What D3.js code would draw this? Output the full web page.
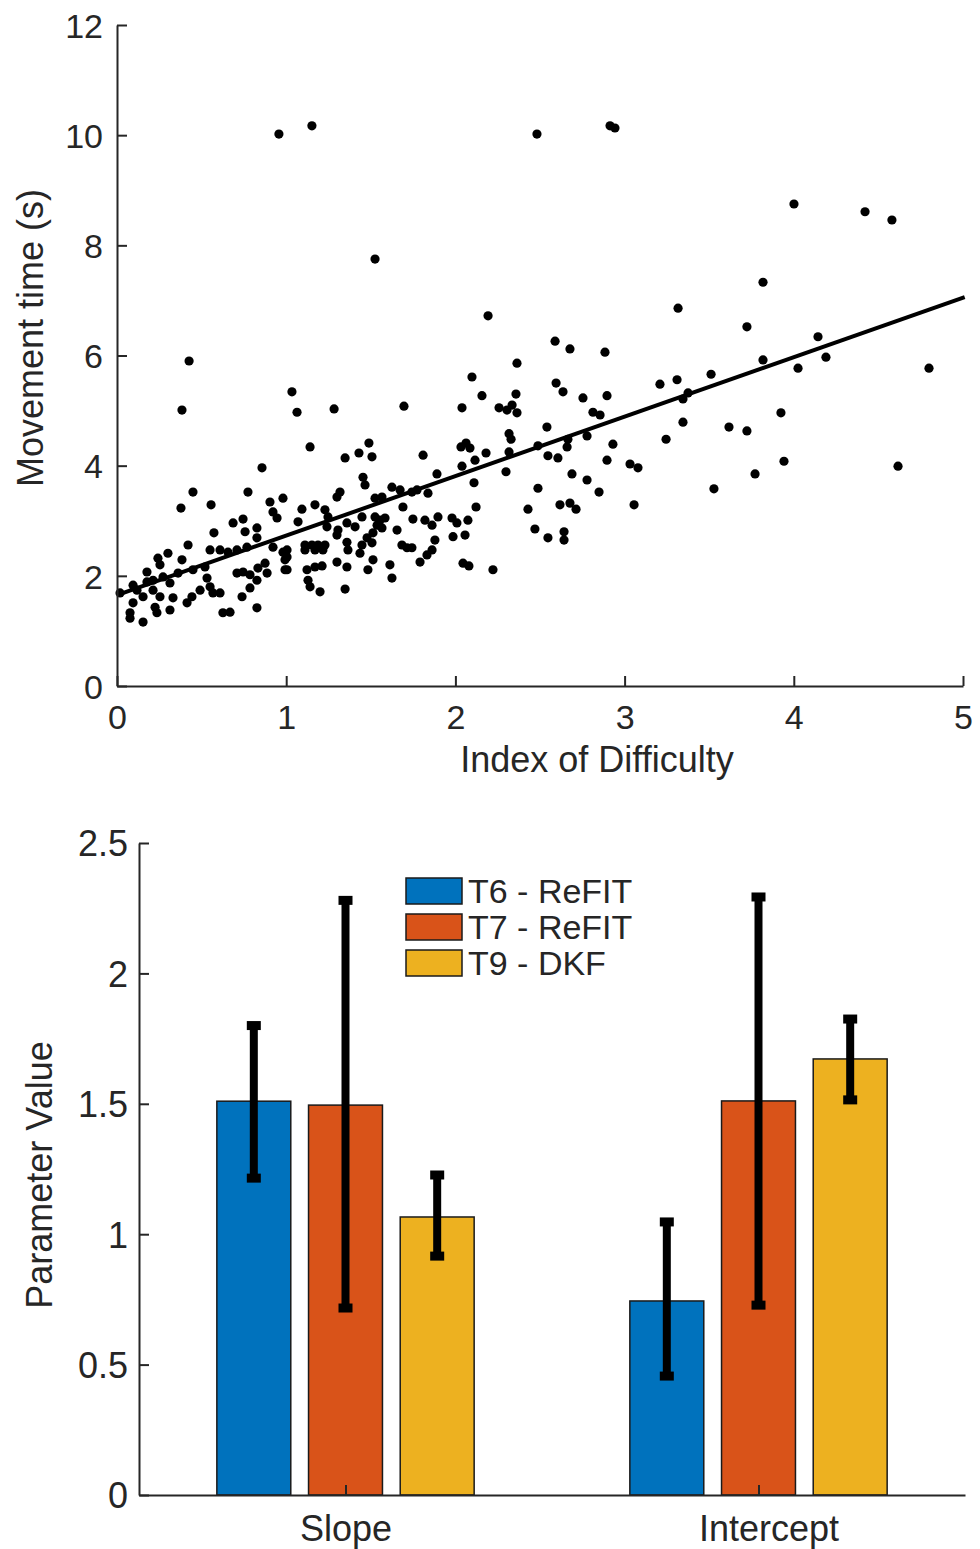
<!DOCTYPE html>
<html>
<head>
<meta charset="utf-8">
<script src="https://cdn.jsdelivr.net/npm/d3@7"></script>
<style>
  html, body { margin: 0; padding: 0; background: #fff; }
  svg { display: block; }
  text { font-family: "Liberation Sans", Arial, Helvetica, sans-serif; fill: #262626; }
</style>
</head>
<body>
<svg id="chart" width="980" height="1549"></svg>
<script>
// ---------------- DATA ----------------
// Scatter: [Index of Difficulty, Movement time (s)]
const scatterPoints = [
  [0.957,10.02],[1.152,10.17],[2.482,10.02],[2.914,10.17],[2.943,10.13],[1.525,7.75],[4.001,8.75],[4.421,8.61],
  [4.580,8.46],[3.818,7.33],[3.316,6.86],[2.193,6.72],[3.723,6.52],[4.143,6.34],[4.190,5.97],[3.818,5.92],
  [4.025,5.77],[4.799,5.77],[3.511,5.66],[3.310,5.56],[3.209,5.48],[3.375,5.32],[3.345,5.21],[3.924,4.96],
  [3.345,4.79],[3.245,4.48],[3.617,4.70],[3.723,4.63],[3.942,4.08],[3.771,3.85],[3.528,3.58],[4.616,3.99],
  [0.426,5.90],[0.384,5.01],[1.034,5.34],[1.064,4.97],[1.283,5.03],[1.696,5.08],[2.039,5.05],[1.141,4.34],
  [1.489,4.41],[1.430,4.23],[1.507,4.16],[1.348,4.14],[1.809,4.19],[2.033,4.34],[2.589,6.26],[2.677,6.12],
  [2.884,6.06],[2.364,5.86],[2.098,5.61],[2.595,5.50],[2.636,5.34],[2.157,5.27],[2.358,5.30],[2.754,5.23],
  [2.896,5.27],[2.258,5.05],[2.305,5.01],[2.335,5.10],[2.364,4.96],[2.813,4.97],[2.855,4.92],[2.541,4.70],
  [2.317,4.58],[2.329,4.48],[2.063,4.41],[2.086,4.32],[2.181,4.23],[2.317,4.25],[2.488,4.36],[2.665,4.48],
  [2.660,4.34],[2.778,4.54],[2.931,4.39],[2.547,4.18],[2.606,4.14],[2.896,4.10],[3.032,4.03],[3.079,3.96],
  [2.299,3.89],[2.689,3.85],[2.778,3.74],[2.849,3.52],[2.110,3.69],[2.488,3.59],[2.618,3.29],[2.677,3.32],
  [2.713,3.21],[3.056,3.29],[2.429,3.21],[2.122,3.25],[2.074,3.01],[2.057,2.74],[2.470,2.85],[2.642,2.80],
  [2.642,2.65],[2.547,2.69],[2.045,2.23],[2.080,2.18],[2.222,2.11],[2.116,4.10],[2.039,3.99],[1.891,3.85],
  [1.454,3.79],[1.466,3.65],[1.625,3.61],[1.318,3.52],[1.300,3.43],[1.525,3.41],[1.566,3.43],[1.673,3.56],
  [1.743,3.52],[1.773,3.56],[1.838,3.50],[1.093,3.21],[1.170,3.29],[1.229,3.20],[1.247,3.07],[1.690,3.25],
  [1.070,2.98],[1.241,2.89],[1.306,2.83],[1.359,2.96],[1.407,2.89],[1.448,3.07],[1.525,3.07],[1.554,3.01],
  [1.584,3.05],[1.537,2.92],[1.566,2.87],[1.513,2.78],[1.655,2.83],[1.749,3.03],[1.820,3.01],[1.862,2.92],
  [1.897,3.07],[1.980,3.05],[2.009,2.96],[1.986,2.71],[1.879,2.65],[1.111,2.56],[1.152,2.56],[1.188,2.56],
  [1.229,2.56],[1.111,2.47],[1.170,2.47],[1.217,2.47],[1.005,2.47],[1.005,2.34],[1.005,2.11],[1.300,2.74],
  [1.359,2.61],[1.365,2.47],[1.478,2.69],[1.448,2.56],[1.436,2.41],[1.507,2.60],[1.684,2.56],[1.714,2.51],
  [1.743,2.51],[1.300,2.25],[1.359,2.16],[1.170,2.16],[1.212,2.18],[1.123,2.11],[1.129,1.92],[1.141,1.80],
  [1.200,1.71],[1.348,1.76],[1.513,2.29],[1.483,2.11],[1.613,2.20],[1.625,1.96],[1.791,2.25],[1.832,2.38],
  [1.862,2.47],[0.857,3.96],[0.449,3.52],[0.774,3.52],[0.378,3.23],[0.556,3.29],[0.904,3.34],[0.981,3.41],
  [0.922,3.16],[0.946,3.05],[0.686,2.96],[0.745,3.03],[0.573,2.78],[0.757,2.80],[0.827,2.87],[0.420,2.56],
  [0.550,2.47],[0.609,2.47],[0.656,2.43],[0.709,2.47],[0.768,2.52],[0.827,2.69],[0.922,2.52],[0.981,2.43],
  [0.993,2.29],[0.993,2.11],[0.242,2.32],[0.301,2.41],[0.384,2.29],[0.177,2.07],[0.254,2.20],[0.213,1.92],
  [0.272,1.98],[0.313,1.87],[0.361,2.05],[0.449,2.11],[0.520,2.16],[0.532,1.96],[0.550,1.80],[0.567,1.69],
  [0.709,2.05],[0.745,2.07],[0.786,2.02],[0.833,2.14],[0.875,2.23],[0.887,2.05],[0.827,1.92],[0.786,1.78],
  [0.739,1.62],[0.609,1.69],[0.491,1.74],[0.443,1.62],[0.414,1.51],[0.331,1.60],[0.254,1.62],[0.225,1.43],
  [0.154,1.62],[0.095,1.51],[0.118,1.74],[0.077,1.33],[0.077,1.23],[0.154,1.16],[0.236,1.33],[0.313,1.38],
  [0.626,1.33],[0.668,1.34],[0.827,1.42],[0.018,1.69],[0.095,1.83],[0.177,1.89],[0.213,1.74]
];
const fitIntercept = 1.65;
const fitSlope = 1.08;
const scatterXTicks = [0, 1, 2, 3, 4, 5];
const scatterYTicks = [0, 2, 4, 6, 8, 10, 12];

// Bars
const categories = ["Slope", "Intercept"];
const seriesNames = ["T6 - ReFIT", "T7 - ReFIT", "T9 - DKF"];
const seriesColors = ["#0072BD", "#D95319", "#EDB120"];
const barValues = [[1.510, 1.495, 1.066], [0.744, 1.511, 1.672]];
const errLow    = [[1.215, 0.717, 0.916], [0.456, 0.728, 1.515]];
const errHigh   = [[1.800, 2.280, 1.227], [1.047, 2.293, 1.825]];
const barYTicks = [0, 0.5, 1, 1.5, 2, 2.5];
const barYTickLabels = ["0", "0.5", "1", "1.5", "2", "2.5"];

// ---------------- DRAW ----------------
const svg = d3.select("#chart");
const axisColor = "#262626";

// ===== Scatter =====
const sx = d3.scaleLinear().domain([0, 5]).range([117, 963]);
const sy = d3.scaleLinear().domain([0, 12]).range([686, 25]);
const g1 = svg.append("g");

g1.append("g").selectAll("circle").data(scatterPoints).join("circle")
  .attr("cx", d => sx(d[0])).attr("cy", d => sy(d[1]))
  .attr("r", 4.6).attr("fill", "#000");

const fitX = [0, 5.01];
g1.append("line")
  .attr("x1", sx(fitX[0])).attr("y1", sy(fitIntercept + fitSlope * fitX[0]))
  .attr("x2", sx(fitX[1])).attr("y2", sy(fitIntercept + fitSlope * fitX[1]))
  .attr("stroke", "#000").attr("stroke-width", 4).attr("stroke-linecap", "butt");

const xAxis1 = d3.axisBottom(sx).tickValues(scatterXTicks).tickSizeInner(-10).tickSizeOuter(0).tickPadding(19).tickFormat(d3.format("d"));
const yAxis1 = d3.axisLeft(sy).tickValues(scatterYTicks).tickSizeInner(-10).tickSizeOuter(0).tickPadding(14).tickFormat(d3.format("d"));
const gx1 = g1.append("g").attr("transform", `translate(0,${sy(0)})`).call(xAxis1);
const gy1 = g1.append("g").attr("transform", `translate(${sx(0)},0)`).call(yAxis1);
[gx1, gy1].forEach(g => {
  g.select(".domain").attr("stroke", axisColor).attr("stroke-width", 2);
  g.selectAll(".tick line").attr("stroke", axisColor).attr("stroke-width", 2);
  g.selectAll(".tick text").attr("font-size", 34).attr("fill", axisColor)
    .style("font-family", '"Liberation Sans", Arial, sans-serif');
});
gy1.selectAll(".tick text").attr("dy", "0.36em");

g1.append("text").attr("x", 597).attr("y", 772).attr("text-anchor", "middle")
  .attr("font-size", 36).text("Index of Difficulty");
g1.append("text").attr("transform", `translate(43,338) rotate(-90)`).attr("text-anchor", "middle")
  .attr("font-size", 36).text("Movement time (s)");

// ===== Bars =====
const bx = d3.scaleLinear().domain([0.5, 2.5]).range([139, 965]);
const by = d3.scaleLinear().domain([0, 2.5]).range([1495, 843]);
const g2 = svg.append("g");
const offsets = [-0.222, 0, 0.222];
const barW = 0.179;

const barData = [];
categories.forEach((c, ci) => {
  seriesNames.forEach((s, si) => {
    barData.push({ ci, si, x: ci + 1 + offsets[si], v: barValues[ci][si], lo: errLow[ci][si], hi: errHigh[ci][si] });
  });
});

g2.append("g").selectAll("rect").data(barData).join("rect")
  .attr("x", d => bx(d.x - barW / 2)).attr("width", d => bx(d.x + barW / 2) - bx(d.x - barW / 2))
  .attr("y", d => by(d.v)).attr("height", d => by(0) - by(d.v))
  .attr("fill", d => seriesColors[d.si]).attr("stroke", "#1a1a1a").attr("stroke-width", 1.5);

const eb = g2.append("g");
eb.selectAll("line").data(barData).join("line")
  .attr("x1", d => bx(d.x)).attr("x2", d => bx(d.x))
  .attr("y1", d => by(d.lo)).attr("y2", d => by(d.hi))
  .attr("stroke", "#000").attr("stroke-width", 8);
const caps = [];
barData.forEach(d => { caps.push({ x: d.x, v: d.lo }); caps.push({ x: d.x, v: d.hi }); });
eb.selectAll("rect").data(caps).join("rect")
  .attr("x", d => bx(d.x) - 7).attr("width", 14)
  .attr("y", d => by(d.v) - 4.5).attr("height", 9)
  .attr("fill", "#000");

const xAxis2 = d3.axisBottom(bx).tickValues([1, 2]).tickSizeInner(-10).tickSizeOuter(0).tickPadding(20)
  .tickFormat((d, i) => categories[i]);
const yAxis2 = d3.axisLeft(by).tickValues(barYTicks).tickSizeInner(-10).tickSizeOuter(0).tickPadding(11)
  .tickFormat((d, i) => barYTickLabels[i]);
const gx2 = g2.append("g").attr("transform", `translate(0,${by(0)})`).call(xAxis2);
const gy2 = g2.append("g").attr("transform", `translate(${bx(0.5)},0)`).call(yAxis2);
[gx2, gy2].forEach(g => {
  g.select(".domain").attr("stroke", axisColor).attr("stroke-width", 2);
  g.selectAll(".tick line").attr("stroke", axisColor).attr("stroke-width", 2);
  g.selectAll(".tick text").attr("font-size", 36).attr("fill", axisColor)
    .style("font-family", '"Liberation Sans", Arial, sans-serif');
});
gy2.selectAll(".tick text").attr("dy", "0.36em");
gx2.selectAll(".tick text").attr("dx", (d, i) => i === 1 ? 10 : 0);

g2.append("text").attr("transform", `translate(52,1175) rotate(-90)`).attr("text-anchor", "middle")
  .attr("font-size", 36).text("Parameter Value");

const lg = g2.append("g").attr("transform", "translate(406,878)");
seriesNames.forEach((s, i) => {
  lg.append("rect").attr("x", 0).attr("y", i * 36).attr("width", 56).attr("height", 26)
    .attr("fill", seriesColors[i]).attr("stroke", "#1a1a1a").attr("stroke-width", 1.5);
  lg.append("text").attr("x", 62).attr("y", i * 36 + 13).attr("dy", "0.36em")
    .attr("font-size", 34).text(s);
});
</script>
</body>
</html>
